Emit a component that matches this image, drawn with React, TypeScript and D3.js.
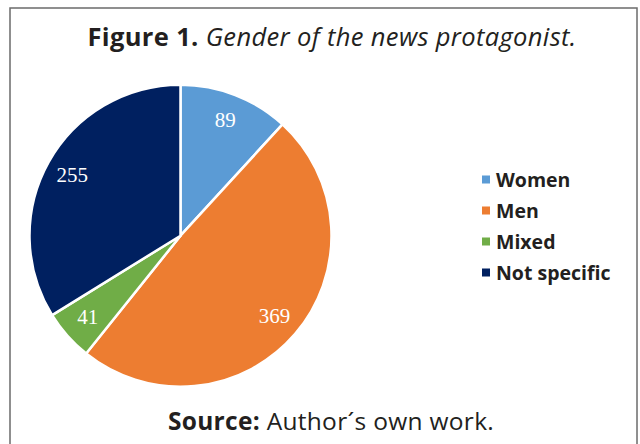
import React from "react";
import * as d3 from "d3";

const categories = ["Women", "Men", "Mixed", "Not specific"];
const values = [89, 369, 41, 255];
const colors = ["#5B9BD5", "#ED7D31", "#70AD47", "#002060"];
const titleBold = "Figure 1.";
const titleItalic = " Gender of the news protagonist.";
const sourceBold = "Source:";
const sourceText = " Author\u00B4s own work.";

const W = 640;
const H = 444;
const cx = 180.5;
const cy = 235.7;
const R = 151;
const font = "'Open Sans', sans-serif";

export default function App() {
  const pie = d3.pie<number>().sort(null).value((d) => d)(values);
  const arc = d3.arc<d3.PieArcDatum<number>>().innerRadius(0).outerRadius(R);
  const labelArc = d3
    .arc<d3.PieArcDatum<number>>()
    .innerRadius(R * 0.82)
    .outerRadius(R * 0.82);
  const legendY = d3.scaleBand<string>().domain(categories).range([164, 288]);

  return (
    <svg
      width={W}
      height={H}
      style={{ position: "fixed", left: 0, top: 0, background: "#fff" }}
    >
      <rect x={0} y={0} width={W} height={H} fill="#fff" />
      <rect
        x={10}
        y={8}
        width={627}
        height={460}
        fill="none"
        stroke="#6b6b6b"
        strokeWidth={1.5}
      />
      <text
        x={332}
        y={46}
        textAnchor="middle"
        fontFamily={font}
        fontSize={25.5}
        letterSpacing={0.35}
        fill="#231f20"
      >
        <tspan fontWeight="bold">{titleBold}</tspan>
        <tspan fontStyle="italic">{titleItalic}</tspan>
      </text>
      <g transform={`translate(${cx},${cy})`}>
        {pie.map((d, i) => (
          <path
            key={i}
            d={arc(d) || ""}
            fill={colors[i]}
            stroke="#fff"
            strokeWidth={2.5}
            strokeLinejoin="round"
          />
        ))}
        {pie.map((d, i) => {
          const [lx, ly] = labelArc.centroid(d);
          return (
            <text
              key={i}
              x={lx}
              y={ly}
              dy="0.3em"
              textAnchor="middle"
              fontFamily="'Liberation Serif', 'Times New Roman', serif"
              fontSize={21}
              fill="#fff"
            >
              {values[i]}
            </text>
          );
        })}
      </g>
      {categories.map((c, i) => {
        const y = (legendY(c) || 0) + legendY.bandwidth() / 2;
        return (
          <g key={c}>
            <rect x={482} y={y - 4} width={8} height={8} fill={colors[i]} />
            <text
              x={496}
              y={y}
              dy="0.36em"
              fontFamily={font}
              fontWeight="bold"
              fontSize={19.5}
              fill="#231f20"
            >
              {c}
            </text>
          </g>
        );
      })}
      <text
        x={331}
        y={430}
        textAnchor="middle"
        fontFamily={font}
        fontSize={24.5}
        letterSpacing={0.3}
        fill="#231f20"
      >
        <tspan fontWeight="bold">{sourceBold}</tspan>
        <tspan>{sourceText}</tspan>
      </text>
    </svg>
  );
}
